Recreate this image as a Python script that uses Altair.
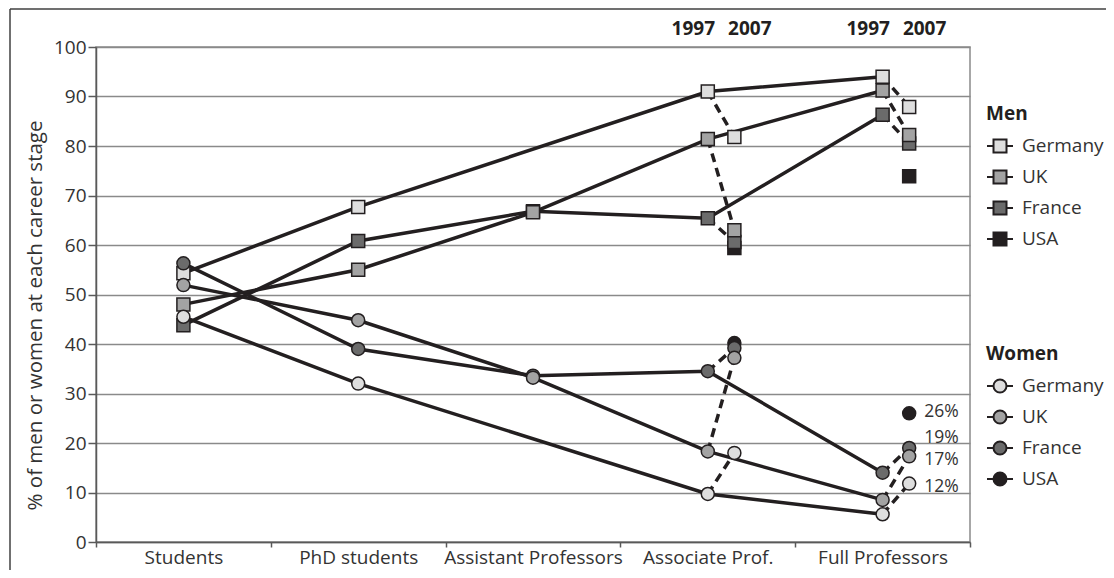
import altair as alt
import pandas as pd

stages = ["Students", "PhD students", "Assistant Professors", "Associate Prof.", "Full Professors"]
countries = ["Germany", "UK", "France", "USA"]
shades = ["#dedede", "#a3a3a3", "#6b6b6b", "#231f20"]

# 1997 values per career stage (None = no value)
men_germany_1997 = [54.3, 67.7, None, 91.0, 94.0]
men_uk_1997 = [48.0, 55.0, 66.6, 81.4, 91.2]
men_france_1997 = [43.8, 60.8, 66.8, 65.4, 86.3]
women_germany_1997 = [45.5, 32.0, None, 9.7, 5.6]
women_uk_1997 = [51.9, 44.8, 33.2, 18.3, 8.5]
women_france_1997 = [56.3, 39.0, 33.6, 34.5, 14.0]

# 2007 values (Germany, UK, France, USA)
men_2007_assoc = [81.8, 63.0, 60.6, 59.4]
men_2007_full = [87.9, 82.2, 80.5, 73.9]
women_2007_assoc = [18.0, 37.2, 39.2, 40.2]
women_2007_full = [11.8, 17.3, 19.0, 26.0]
women_full_2007_labels = ["12%", "17%", "19%", "26%"]

year_labels = ["1997", "2007"]

INK = "#231f20"
OFF = 0.152  # 2007 offset within a stage (in stage units)

rows = []
for sex, d, a07, f07 in [
    ("Men", {"Germany": men_germany_1997, "UK": men_uk_1997, "France": men_france_1997}, men_2007_assoc, men_2007_full),
    ("Women", {"Germany": women_germany_1997, "UK": women_uk_1997, "France": women_france_1997}, women_2007_assoc, women_2007_full),
]:
    for c, vals in d.items():
        for i, v in enumerate(vals):
            if v is not None:
                rows.append(dict(sex=sex, country=c, stage=i, year=1997, x=i + 0.5, value=v))
    for j, c in enumerate(countries):
        rows.append(dict(sex=sex, country=c, stage=3, year=2007, x=3.5 + OFF, value=a07[j]))
        rows.append(dict(sex=sex, country=c, stage=4, year=2007, x=4.5 + OFF, value=f07[j]))

df = pd.DataFrame(rows)
df["series"] = df["sex"] + " " + df["country"]
df["pair"] = df["series"] + " " + df["stage"].astype(str)
df["rank"] = df["country"].map(lambda c: countries.index(c))
df = df.sort_values(["rank"], ascending=False, kind="stable")

label_expr = "[" + ",".join("'" + s + "'" for s in stages) + ",''][datum.value]"

xaxis = alt.Axis(values=[0, 1, 2, 3, 4, 5], labelExpr=label_expr, labelOffset=87.4, title=None,
                 grid=False, tickSize=5, tickColor="#595959", tickWidth=1.5, domainColor="#595959",
                 domainWidth=1.5, labelFontSize=19, labelColor="#333333", labelPadding=1,
                 labelOverlap=False, labelBound=False, labelFlush=False)
yaxis = alt.Axis(values=list(range(0, 101, 10)), title="% of men or women at each career stage",
                 titleFontSize=20.5, titleFontWeight="normal", titleColor="#333333", titlePadding=8,
                 titleY=268,
                 grid=True, gridColor="#8a8a8a", gridWidth=1.5, tickSize=8, tickColor="#595959",
                 tickWidth=1.5, domainColor="#595959", domainWidth=1.5, labelFontSize=19,
                 labelColor="#333333", labelPadding=2)

X = alt.X("x:Q", scale=alt.Scale(domain=[0, 5], nice=False, zero=False), axis=xaxis)
Y = alt.Y("value:Q", scale=alt.Scale(domain=[0, 100], nice=False), axis=yaxis)

solid = alt.Chart(df[df["year"] == 1997]).mark_line(color=INK, strokeWidth=3.5).encode(
    x=X, y=Y, detail="series:N", order="x:Q")

dashed = alt.Chart(df[df["stage"] >= 3]).mark_line(color=INK, strokeWidth=3.5, strokeDash=[9, 6]).encode(
    x=X, y=Y, detail="pair:N", order="x:Q")

sq_path = "M-1,0H-0.5M0.5,0H1M-0.5,-0.5H0.5V0.5H-0.5Z"
ci_path = "M-1,0H-0.5M0.5,0H1M0.5,0A0.5,0.5 0 1,1 -0.5,0A0.5,0.5 0 1,1 0.5,0Z"


def leg(title, path, y):
    return alt.Legend(title=title, orient="none", legendX=890, legendY=y, titleFontSize=19,
                      titleFontWeight="bold", titleColor=INK, labelFontSize=19, labelColor="#333333",
                      symbolType=path, symbolSize=676, symbolStrokeColor=INK, symbolStrokeWidth=2,
                      rowPadding=6, labelOffset=8, titlePadding=8)


men_pts = alt.Chart(df[df["sex"] == "Men"]).mark_point(shape="square", filled=True, size=169, stroke=INK,
                                                       strokeWidth=1.5, opacity=1).encode(
    x=X, y=Y,
    fill=alt.Fill("country:N", scale=alt.Scale(domain=countries, range=shades), legend=leg("Men", sq_path, 58)))

women_pts = alt.Chart(df[df["sex"] == "Women"]).mark_point(shape="circle", filled=True, size=169, stroke=INK,
                                                           strokeWidth=1.5, opacity=1).encode(
    x=X, y=Y,
    fill=alt.Fill("country:N", scale=alt.Scale(domain=countries, range=shades), legend=leg("Women", ci_path, 298)))

# year headers above the last two stages
yr = pd.DataFrame({"x": [3.5 + OFF / 2, 3.5 + OFF / 2, 4.5 + OFF / 2, 4.5 + OFF / 2],
                   "t": year_labels * 2, "yr": [0, 1, 0, 1]})
yr1997 = alt.Chart(yr[yr.yr == 0]).mark_text(fontSize=19, fontWeight="bold", color=INK, align="right",
                                               baseline="middle", dx=-6).encode(
    x=X, y=alt.value(-18), text="t:N")
yr2007 = alt.Chart(yr[yr.yr == 1]).mark_text(fontSize=19, fontWeight="bold", color=INK, align="left",
                                               baseline="middle", dx=7).encode(
    x=X, y=alt.value(-18), text="t:N")

# percentage labels next to the women's 2007 full-professor points
lab = pd.DataFrame({"x": [4.5 + OFF] * 4, "value": women_2007_full, "t": women_full_2007_labels})
label_dy = {"12%": 3, "17%": 4, "19%": -10, "26%": -1}
lab_layers = [
    alt.Chart(lab[lab.t == t]).mark_text(fontSize=17.5, color="#333333", align="left",
                                         baseline="middle", dx=15, dy=dy).encode(x=X, y=Y, text="t:N")
    for t, dy in label_dy.items()
]

border_top = alt.Chart(pd.DataFrame({"a": [0]})).mark_rule(color="#404040", strokeWidth=1.5).encode(
    x=alt.value(-86), x2=alt.value(1200), y=alt.value(-38))
border_left = alt.Chart(pd.DataFrame({"a": [0]})).mark_rule(color="#404040", strokeWidth=1.5).encode(
    x=alt.value(-86), y=alt.value(-38), y2=alt.value(700))

chart = alt.layer(solid, dashed, men_pts, women_pts, yr1997, yr2007, *lab_layers,
                  border_top, border_left).resolve_scale(fill="independent").properties(
    width=874, height=495,
    autosize=alt.AutoSizeParams(type="none"),
    padding={"left": 88, "top": 39, "right": 136, "bottom": 28},
).configure(font="Open Sans").configure_view(stroke="#8a8a8a", strokeWidth=1.5)

chart.save("out.html", embed_options={"renderer": "svg", "actions": False})
